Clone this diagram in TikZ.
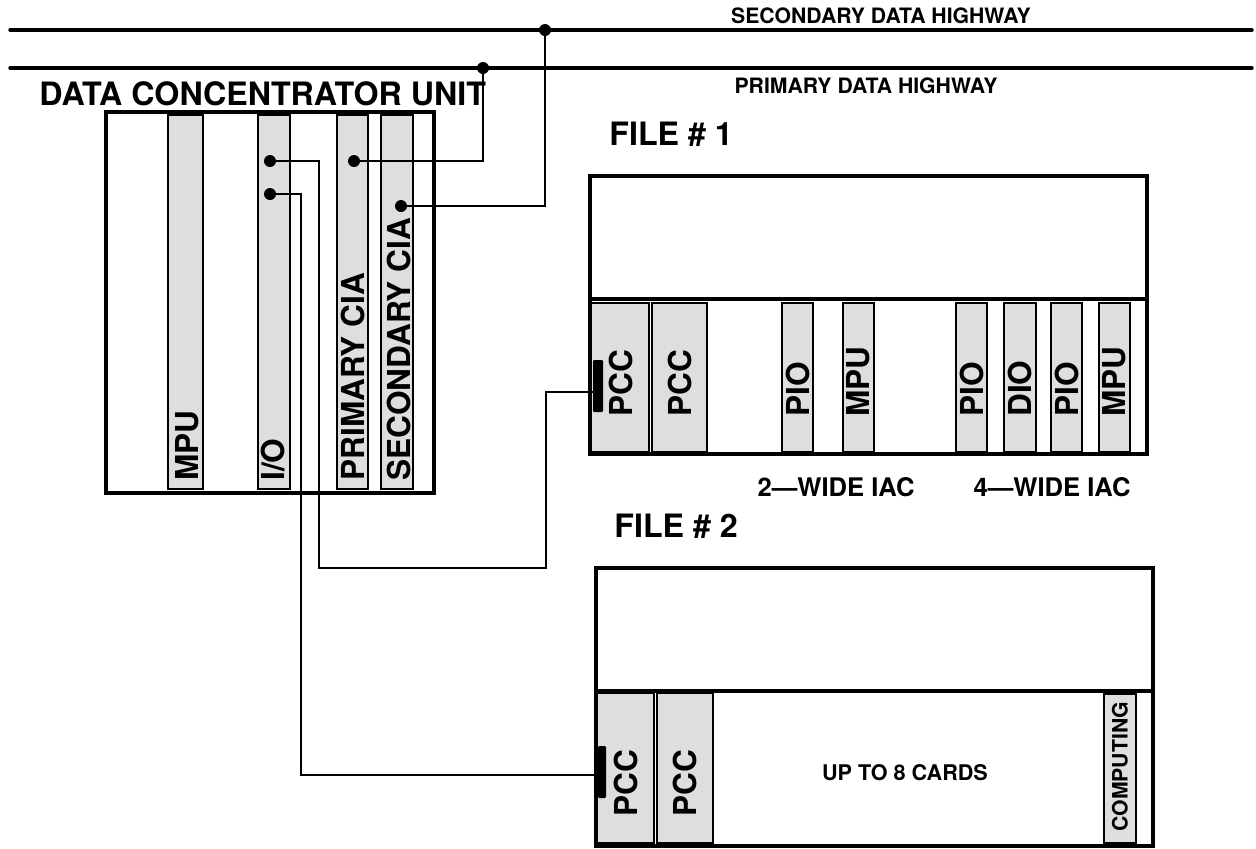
\documentclass[tikz,border=0pt]{standalone}
\usepackage{fontspec}
\setmainfont{TeX Gyre Heros}
\definecolor{cardgray}{HTML}{DEDEDE}
\begin{document}
\begin{tikzpicture}[x=0.5pt,y=-0.5pt,
  frame/.style={line width=1.6pt},
  card/.style={draw, line width=1pt, fill=cardgray},
  wire/.style={line width=1pt},
  bus/.style={line width=1.7pt, line cap=round},
  dot/.style={circle, fill, inner sep=0pt, minimum size=6pt},
  plug/.style={fill, inner sep=0pt, rounded corners=0.6pt},
  lbl/.style={font=\bfseries\fontsize{15.8}{18}\selectfont, inner sep=0pt, rotate=90, anchor=west},
  slbl/.style={font=\bfseries\fontsize{10.6}{12}\selectfont, inner sep=0pt, rotate=90, anchor=west},
  title/.style={font=\bfseries\fontsize{16.1}{18}\selectfont, inner sep=0pt, anchor=west},
  small/.style={font=\bfseries\fontsize{10.6}{12}\selectfont, inner sep=0pt},
  mid/.style={font=\bfseries\fontsize{12.8}{14}\selectfont, inner sep=0pt}
]
\useasboundingbox (0,0) rectangle (1256,848);

% highways
\coordinate (secL) at (10,30);
\coordinate (secR) at (1252,30);
\coordinate (priL) at (10,68);
\coordinate (priR) at (1252,68);
\draw[bus] (secL) -- (secR);
\draw[bus] (priL) -- (priR);
\node[small] (sechw) at (881,16) {SECONDARY DATA HIGHWAY};
\node[small] (prihw) at (866,86) {PRIMARY DATA HIGHWAY};

% data concentrator unit
\node[title] (dcut) at (39,94) {DATA CONCENTRATOR UNIT};
\draw[card] (168,115) rectangle (203,489);
\draw[card] (258,115) rectangle (290,489);
\draw[card] (337,115) rectangle (368,489);
\draw[card] (381,115) rectangle (413,489);
\draw[frame] (106,112) rectangle (434,493);
\node[lbl] (dmpu) at (187,481) {MPU};
\node[lbl] (dio) at (273,481) {I/O};
\node[lbl] (dpcia) at (352.5,481) {PRIMARY CIA};
\node[lbl] (dscia) at (399,481) {SECONDARY CIA};

% file 1
\node[title] (f1t) at (609,134) {FILE \# 1};
\draw[card] (591,303) rectangle (649,452);
\draw[card] (652,303) rectangle (707,452);
\draw[card] (782,303) rectangle (813,452);
\draw[card] (843,303) rectangle (874,452);
\draw[card] (956,303) rectangle (987,452);
\draw[card] (1004,303) rectangle (1036,452);
\draw[card] (1051,303) rectangle (1082,452);
\draw[card] (1099,303) rectangle (1130,452);
\draw[frame] (590,176) rectangle (1147,454);
\draw[frame] (590,299) -- (1147,299);
\node[lbl] (f1pcca) at (621,417) {PCC};
\node[lbl] (f1pccb) at (680,417) {PCC};
\node[lbl] (f1pioa) at (797.5,417) {PIO};
\node[lbl] (f1mpua) at (858.5,417) {MPU};
\node[lbl] (f1piob) at (971.5,417) {PIO};
\node[lbl] (f1dio) at (1020,417) {DIO};
\node[lbl] (f1pioc) at (1066.5,417) {PIO};
\node[lbl] (f1mpub) at (1114.5,417) {MPU};
\node[plug, minimum width=5pt, minimum height=26pt] (plug1) at (598,386) {};
\node[mid] (iac2) at (836,487) {2—WIDE IAC};
\node[mid] (iac4) at (1052,487) {4—WIDE IAC};

% file 2
\node[title] (f2t) at (614,526) {FILE \# 2};
\draw[card] (597,693) rectangle (654,843);
\draw[card] (657,693) rectangle (713,843);
\draw[card] (1104,694) rectangle (1136,843);
\draw[frame] (596,568) rectangle (1153,846);
\draw[frame] (596,691) -- (1153,691);
\node[lbl] (f2pcca) at (626,817) {PCC};
\node[lbl] (f2pccb) at (685,817) {PCC};
\node[slbl] (f2comp) at (1120,832) {COMPUTING};
\node[plug, minimum width=4pt, minimum height=26pt] (plug2) at (602,772) {};
\node[font=\bfseries\fontsize{10.8}{12}\selectfont, inner sep=0pt] (upto) at (905,773) {UP TO 8 CARDS};

% dots
\node[dot] (iod1) at (270,161) {};
\node[dot] (iod2) at (270,194) {};
\node[dot] (pcd) at (354,161) {};
\node[dot] (scd) at (401,206) {};
\node[dot] (pj) at (483,68) {};
\node[dot] (sj) at (545,30) {};
\coordinate (in1) at (594,392);
\coordinate (in2) at (599,775);

% wires
\draw[wire] (pcd.center) -| (pj.center);
\draw[wire] (scd.center) -| (sj.center);
\draw[wire] (iod1.center) -- (319,161) |- (546,568) |- (in1);
\draw[wire] (iod2.center) -- (301,194) |- (in2);
\end{tikzpicture}
\end{document}
